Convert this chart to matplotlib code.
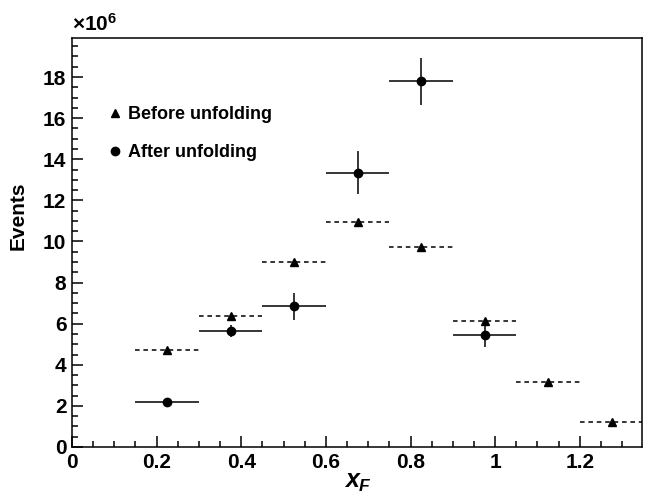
import matplotlib
matplotlib.use("Agg")
import matplotlib.pyplot as plt
from matplotlib.ticker import MultipleLocator, FuncFormatter
from matplotlib.lines import Line2D
import numpy as np

plt.rcParams['font.family'] = ['Liberation Sans', 'DejaVu Sans']
plt.rcParams['mathtext.fontset'] = 'custom'
plt.rcParams['mathtext.rm'] = 'Liberation Sans:bold'
plt.rcParams['mathtext.bf'] = 'Liberation Sans:bold'
plt.rcParams['mathtext.it'] = 'Liberation Sans:bold:italic'

bin_centers = [0.225, 0.375, 0.525, 0.675, 0.825, 0.975, 1.125, 1.275]
bin_half_width = 0.075
before = [4.70, 6.39, 9.00, 10.94, 9.73, 6.13, 3.16, 1.22]  # x1e6

after_centers = [0.225, 0.375, 0.525, 0.675, 0.825, 0.975]
after = [2.21, 5.64, 6.84, 13.35, 17.80, 5.47]
after_err = [0.08, 0.30, 0.65, 1.05, 1.14, 0.60]

fig = plt.figure(figsize=(6.51, 4.96), dpi=100)
ax = fig.add_axes([72/651, 1-447/496, (642-72)/651, (447-38)/496])

bc = np.array(bin_centers)
be = np.array(before) * 1e6
eb = ax.errorbar(bc, be, xerr=bin_half_width, fmt='^', color='black', ms=5.5,
                 elinewidth=1.1, capsize=0)
eb[2][0].set_linestyle((0, (3, 2.5)))

ac = np.array(after_centers)
ae = np.array(after) * 1e6
aerr = np.array(after_err) * 1e6
ax.errorbar(ac, ae, xerr=bin_half_width, yerr=aerr, fmt='o', color='black', ms=6,
            elinewidth=1.1, capsize=0)

ax.set_xlim(0, 1.347)
ax.set_ylim(0, 19.9e6)

ax.xaxis.set_major_locator(MultipleLocator(0.2))
ax.xaxis.set_minor_locator(MultipleLocator(0.05))
ax.yaxis.set_major_locator(MultipleLocator(2e6))
ax.yaxis.set_minor_locator(MultipleLocator(0.5e6))
ax.xaxis.set_major_formatter(FuncFormatter(lambda v, p: ('%g' % round(v, 3))))
ax.yaxis.set_major_formatter(FuncFormatter(lambda v, p: '%d' % round(v / 1e6)))

ax.tick_params(which='both', direction='in', top=False, right=False, width=1.1)
ax.tick_params(which='major', length=8, labelsize=15, pad=4)
ax.tick_params(which='minor', length=4)
for lbl in ax.get_xticklabels() + ax.get_yticklabels():
    lbl.set_fontweight('bold')
for s in ax.spines.values():
    s.set_linewidth(1.1)

fig.text(358/651, 1-482/496, r'$x_F$', fontsize=18,
         ha='center', va='center')
ax.set_ylabel('Events', fontsize=15, fontweight='bold')
ax.yaxis.set_label_coords(-0.078, 0.565)

fig.text(72/651, 1-24/496, r'$\times$10$^{6}$', fontsize=15, fontweight='bold',
         ha='left', va='center')

handles = [Line2D([], [], ls='none', marker='^', color='black', ms=5.5),
           Line2D([], [], ls='none', marker='o', color='black', ms=6)]
labels = ['Before unfolding', 'After unfolding']
leg = ax.legend(handles, labels, loc='upper left', bbox_to_anchor=(0.05, 0.855),
                frameon=False, handlelength=0.6, handletextpad=0.45,
                labelspacing=1.15, borderpad=0, prop={'weight': 'bold', 'size': 13})

fig.savefig('out.png', dpi=100)
